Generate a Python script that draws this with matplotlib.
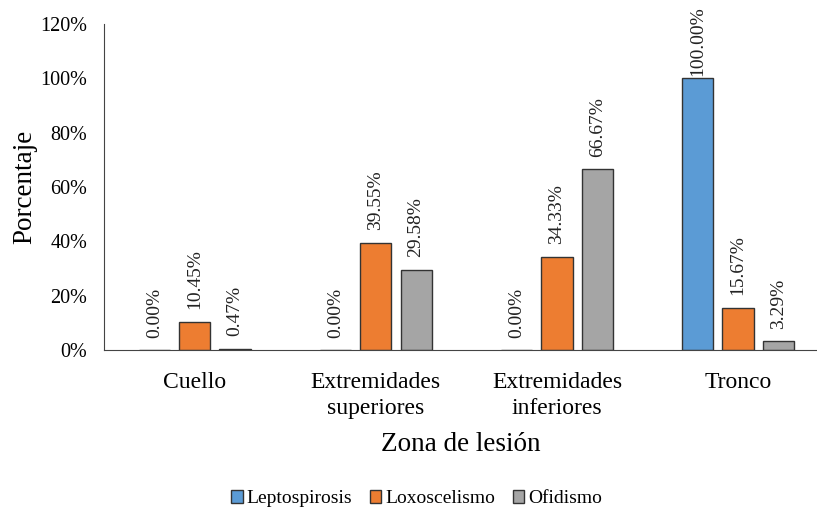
import matplotlib.pyplot as plt
import numpy as np
from matplotlib.ticker import PercentFormatter

plt.rcParams['font.family'] = ['Liberation Serif', 'DejaVu Serif']

# data
zonas = ["Cuello", "Extremidades\nsuperiores", "Extremidades\ninferiores", "Tronco"]
leptospirosis = [0.00, 0.00, 0.00, 100.00]
loxoscelismo = [10.45, 39.55, 34.33, 15.67]
ofidismo = [0.47, 29.58, 66.67, 3.29]

series = [("Leptospirosis", leptospirosis, "#5B9BD5"),
          ("Loxoscelismo", loxoscelismo, "#ED7D31"),
          ("Ofidismo", ofidismo, "#A5A5A5")]

fig = plt.figure(figsize=(8.17, 5.12), dpi=100)
ax = fig.add_axes([0.127, 0.316, 0.873, 0.637])

x = np.arange(len(zonas))
w = 0.172
step = 0.222
for i, (name, vals, col) in enumerate(series):
    pos = x + (i - 1) * step
    ax.bar(pos, vals, width=w, color=col, edgecolor="#333333", linewidth=1.0, label=name)
    for p, v in zip(pos, vals):
        # tallest label gets pushed down so it stays inside the figure
        off = 2 if v > 95 else 9
        ax.annotate(f"{v:.2f}%", (p, v), xytext=(0, off), textcoords="offset points",
                    rotation=90, ha="center", va="bottom", fontsize=14, color="#222222",
                    annotation_clip=False)

ax.set_xlim(-0.503, 3.436)
ax.set_ylim(0, 120)
ax.set_yticks(range(0, 121, 20))
ax.yaxis.set_major_formatter(PercentFormatter(decimals=0))
ax.set_xticks(x)
ax.set_xticklabels(zonas, fontsize=17, linespacing=1.3)
ax.tick_params(axis="y", labelsize=14.5, length=0, pad=12)
ax.tick_params(axis="x", length=0, pad=16)
for s in ["top", "right"]:
    ax.spines[s].set_visible(False)
ax.spines["left"].set_color("#444444")
ax.spines["bottom"].set_color("#444444")

ax.set_ylabel("Porcentaje", fontsize=19.5, labelpad=2)
ax.set_xlabel("Zona de lesión", fontsize=19.5, labelpad=9)

fig.legend(loc="lower center", bbox_to_anchor=(0.51, -0.025), ncol=3, frameon=False,
           fontsize=14, handlelength=0.6, handleheight=0.6, handletextpad=0.2,
           columnspacing=0.9)

fig.savefig("out.png", dpi=100)
